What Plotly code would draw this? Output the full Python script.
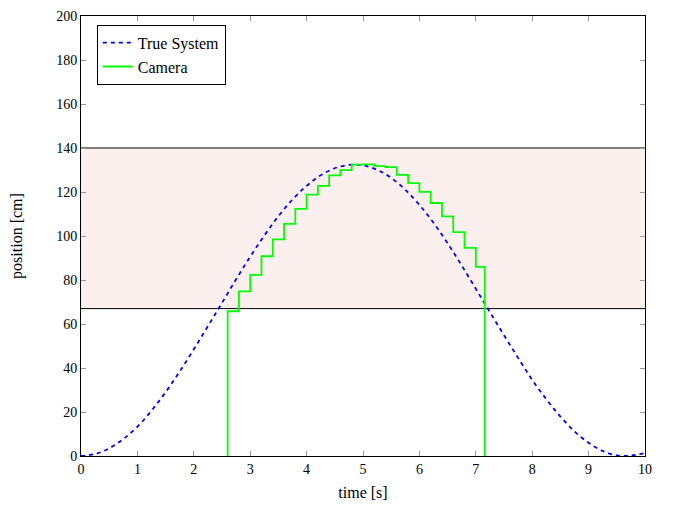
import plotly.graph_objects as go

# True system trajectory
true_t = [0.0, 0.25, 0.5, 0.75, 1.0, 1.25, 1.5, 1.75, 2.0, 2.25, 2.5, 2.75, 3.0, 3.25,
          3.5, 3.75, 4.0, 4.25, 4.5, 4.75, 5.0, 5.25, 5.5, 5.75, 6.0, 6.25, 6.5, 6.75,
          7.0, 7.25, 7.5, 7.75, 8.0, 8.25, 8.5, 8.75, 9.0, 9.25, 9.5, 9.75, 10.0]
true_pos = [0.0, 0.9, 3.5, 7.7, 13.3, 20.6, 29.0, 38.4, 48.5, 59.0, 69.6, 80.3, 90.6,
            100.2, 109.0, 116.6, 122.8, 127.6, 130.8, 132.3, 132.1, 130.1, 126.4,
            121.0, 114.1, 106.0, 96.7, 86.6, 76.0, 65.4, 54.9, 44.6, 34.6, 25.8,
            17.9, 11.2, 6.0, 2.3, 0.3, 0.2, 1.4]

# Camera samples (sample-and-hold)
cam_t = [2.6, 2.6, 2.8, 3.0, 3.2, 3.4, 3.6, 3.8, 4.0, 4.2, 4.4, 4.6, 4.8, 5.0, 5.2,
         5.4, 5.6, 5.8, 6.0, 6.2, 6.4, 6.6, 6.8, 7.0, 7.16]
cam_pos = [0.0, 65.8, 74.8, 82.3, 90.8, 98.5, 105.5, 112.3, 118.8, 122.8, 127.6, 129.9,
           132.4, 132.6, 131.8, 131.3, 127.8, 124.0, 120.1, 115.0, 108.9, 101.8, 94.6,
           86.0, 0.0]

# Visible band limits
band_low = 67
band_high = 140

x_ticks = list(range(0, 11))
y_ticks = list(range(0, 201, 20))

font_family = "Liberation Serif"

fig = go.Figure()

fig.add_trace(go.Scatter(
    x=true_t, y=true_pos, mode="lines", name="True System",
    line=dict(color="#0000ff", width=1.8, dash="4px,4px", shape="spline"),
))
fig.add_trace(go.Scatter(
    x=cam_t, y=cam_pos, mode="lines", name="Camera",
    line=dict(color="#00ff00", width=1.8, shape="hv"),
))

fig.add_shape(type="rect", xref="x", yref="y", x0=0, x1=10, y0=band_low, y1=band_high,
              fillcolor="#fcf0ef", line=dict(width=0), layer="below")
for yv in (band_low, band_high):
    fig.add_shape(type="line", xref="x", yref="y", x0=0, x1=10, y0=yv, y1=yv,
                  line=dict(color="black", width=1), layer="below")

axis_common = dict(
    showgrid=False, zeroline=False, showline=True, linecolor="black", linewidth=1,
    mirror="ticks", ticks="inside", ticklen=5, tickcolor="#999999", tickwidth=1,
    tickfont=dict(family=font_family, size=14, color="black"), automargin=False,
    ticklabeloverflow="allow",
)

fig.update_layout(
    width=673, height=506,
    margin=dict(l=73, r=36, t=8, b=58),
    paper_bgcolor="white", plot_bgcolor="white",
    font=dict(family=font_family, size=14, color="black"),
    xaxis=dict(range=[0, 10], tickvals=x_ticks,
               title=dict(text="time [s]", font=dict(family=font_family, size=16), standoff=11),
               **axis_common),
    yaxis=dict(range=[0, 200], tickvals=y_ticks,
               title=dict(text="position [cm]", font=dict(family=font_family, size=16), standoff=32),
               **axis_common),
    legend=dict(x=0.028, y=0.98, xanchor="left", yanchor="top",
                bordercolor="black", borderwidth=1, bgcolor="white",
                font=dict(family=font_family, size=16), tracegroupgap=0),
    showlegend=True,
)

fig.write_html("out.html")
